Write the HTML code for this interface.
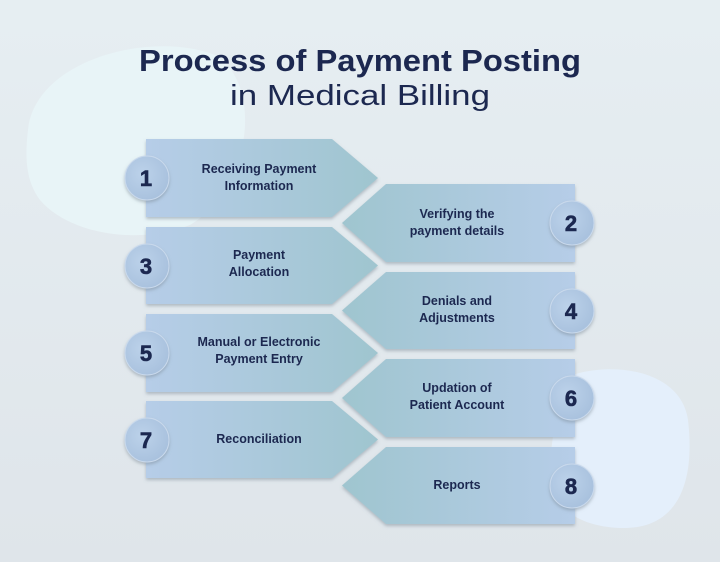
<!DOCTYPE html>
<html><head><meta charset="utf-8"><style>
html,body{margin:0;padding:0;background:#e3e9ee;}
svg{display:block;}
text{font-family:"Liberation Sans",sans-serif;fill:#1c2850;}
</style></head><body>
<svg width="720" height="562" viewBox="0 0 720 562" xmlns="http://www.w3.org/2000/svg">
<defs>
<linearGradient id="bg" x1="0" y1="0" x2="0" y2="1"><stop offset="0" stop-color="#e6eef2"/><stop offset="1" stop-color="#dfe5ea"/></linearGradient>
<linearGradient id="gl" x1="0" y1="0" x2="1" y2="0"><stop offset="0" stop-color="#b6cde8"/><stop offset="1" stop-color="#9fc5cf"/></linearGradient>
<linearGradient id="gr" x1="0" y1="0" x2="1" y2="0"><stop offset="0" stop-color="#9fc5cf"/><stop offset="1" stop-color="#b6cde8"/></linearGradient>
<radialGradient id="cg" cx="0.4" cy="0.4" r="0.7"><stop offset="0" stop-color="#bcd2ea"/><stop offset="1" stop-color="#a6bfdc"/></radialGradient>
<filter id="sh" x="-10%" y="-10%" width="120%" height="130%"><feDropShadow dx="0" dy="2" stdDeviation="1.5" flood-color="#7a8896" flood-opacity="0.5"/></filter>
</defs>
<rect width="720" height="562" fill="url(#bg)"/>
<path d="M28 130 C35 60 150 30 215 55 C265 85 250 190 190 225 C140 245 70 235 40 200 C25 180 25 155 28 130 Z" fill="#e8f4f7"/>
<path d="M560 380 C600 360 680 365 688 420 C695 480 680 530 620 528 C570 526 545 500 550 460 Z" fill="#e4effb"/>
<text x="360" y="71" text-anchor="middle" font-size="31" font-weight="bold" textLength="442" lengthAdjust="spacingAndGlyphs">Process of Payment Posting</text>
<text x="360" y="105" text-anchor="middle" font-size="29" textLength="260" lengthAdjust="spacingAndGlyphs">in Medical Billing</text>
<g filter="url(#sh)">
<path d="M146 139 H332 L378 178 L332 217 H146 Z" fill="url(#gl)"/>
<path d="M146 227 H332 L378 265.5 L332 304 H146 Z" fill="url(#gl)"/>
<path d="M146 314 H332 L378 353 L332 392 H146 Z" fill="url(#gl)"/>
<path d="M146 401 H332 L378 439.5 L332 478 H146 Z" fill="url(#gl)"/>
<path d="M386 184 H575 V262 H386 L342 223 Z" fill="url(#gr)"/>
<path d="M386 272 H575 V349 H386 L342 310.5 Z" fill="url(#gr)"/>
<path d="M386 359 H575 V437 H386 L342 398 Z" fill="url(#gr)"/>
<path d="M386 447 H575 V524 H386 L342 485.5 Z" fill="url(#gr)"/>
</g>
<g filter="url(#sh)" fill="url(#cg)" stroke="#c9d9ec" stroke-width="1">
<circle cx="147" cy="178" r="22"/><circle cx="147" cy="266" r="22"/><circle cx="147" cy="353" r="22"/><circle cx="147" cy="440" r="22"/>
<circle cx="572" cy="223" r="22"/><circle cx="572" cy="311" r="22"/><circle cx="572" cy="398" r="22"/><circle cx="572" cy="486" r="22"/>
</g>
<g font-size="22" font-weight="bold" text-anchor="middle" stroke="#1c2850" stroke-width="0.6">
<text x="146" y="186">1</text><text x="146" y="274">3</text><text x="146" y="361">5</text><text x="146" y="448">7</text>
<text x="571" y="231">2</text><text x="571" y="319">4</text><text x="571" y="406">6</text><text x="571" y="494">8</text>
</g>
<g font-size="12.5" font-weight="bold" text-anchor="middle">
<text x="259" y="173">Receiving Payment</text><text x="259" y="190">Information</text>
<text x="259" y="259">Payment</text><text x="259" y="276">Allocation</text>
<text x="259" y="346">Manual or Electronic</text><text x="259" y="363">Payment Entry</text>
<text x="259" y="443">Reconciliation</text>
<text x="457" y="218">Verifying the</text><text x="457" y="235">payment details</text>
<text x="457" y="305">Denials and</text><text x="457" y="322">Adjustments</text>
<text x="457" y="392">Updation of</text><text x="457" y="409">Patient Account</text>
<text x="457" y="489">Reports</text>
</g>
</svg>
</body></html>
